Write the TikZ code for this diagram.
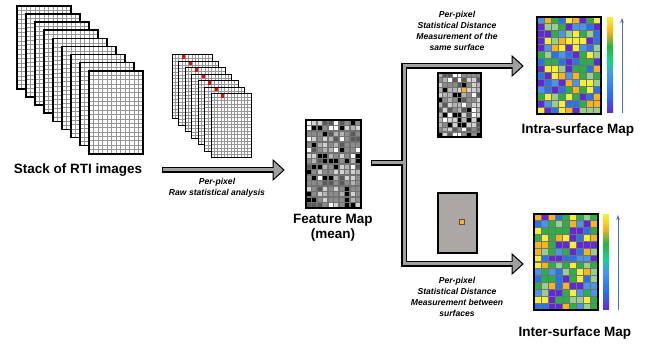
\documentclass[tikz,border=0pt]{standalone}
\usepackage{fontspec}
\setmainfont{Liberation Sans}
\usetikzlibrary{arrows.meta}

% colours of the maps
\definecolor{pc1}{RGB}{248,238,52}
\definecolor{pc2}{RGB}{250,180,25}
\definecolor{pc3}{RGB}{40,178,70}
\definecolor{pc4}{RGB}{150,208,140}
\definecolor{pc5}{RGB}{40,115,235}
\definecolor{pc6}{RGB}{98,40,215}
\definecolor{pc7}{RGB}{70,150,240}
\definecolor{fm1}{RGB}{255,255,255}
\definecolor{fm2}{RGB}{210,210,210}
\definecolor{fm3}{RGB}{180,180,180}
\definecolor{fm4}{RGB}{90,90,90}
\definecolor{fm5}{RGB}{0,0,0}
\definecolor{fm6}{RGB}{140,140,140}
\definecolor{fm7}{RGB}{140,140,140}
\definecolor{bargrey}{RGB}{160,160,160}
\definecolor{sheetgrey}{RGB}{150,150,150}
\definecolor{cellgrey}{RGB}{115,115,115}
\definecolor{plate}{RGB}{172,167,165}
\definecolor{scalearrow}{RGB}{70,110,205}

\pgfdeclareverticalshading{parula}{100bp}{color(0bp)=(pc6); color(25bp)=(pc6);
  color(35bp)=(pc5); color(45bp)=(pc7); color(52bp)=(pc3!60!cyan);
  color(60bp)=(pc3); color(68bp)=(pc2); color(75bp)=(pc1); color(100bp)=(pc1)}

% left top width height innercols innerrows
\newcommand{\rtisheet}[6]{%
  \fill[white] (#1,#2) rectangle ++(#3,#4);
  \foreach \k in {1,...,#5}
    \draw[sheetgrid] ({#1+\k*#3/(#5+1)},#2) -- ++(0,#4);
  \foreach \k in {1,...,#6}
    \draw[sheetgrid] (#1,{#2+\k*#4/(#6+1)}) -- ++(#3,0);
}

% left top cellw cellh cols rows palette count
\newcommand{\cellmap}[8]{%
  \foreach \i in {1,...,#5}
    \foreach \j in {1,...,#6}{
      \pgfmathrandominteger{\c}{1}{#8}
      \filldraw[fill=#7\c, draw=cellgrey, line width=1.1pt]
        ({#1+(\i-1)*#3},{#2+(\j-1)*#4}) rectangle ++(#3,#4);
    }
  \draw[mapborder] (#1,#2) rectangle ++({#5*#3},{#6*#4});
}

\tikzset{
  sheetgrid/.style={draw=sheetgrey, line width=.5pt},
  mapborder/.style={draw=black, line width=1.8pt},
  barout/.style={draw=black, line width=5.6pt},
  barin/.style={draw=bargrey, line width=3pt},
  barhead/.style={fill=bargrey, draw=black, line width=1pt, line join=miter},
  maplabel/.style={font=\bfseries\fontsize{13.5}{15}\selectfont, align=center},
  steplabel/.style={font=\bfseries\itshape\fontsize{8.6}{11}\selectfont, align=center},
}

\begin{document}
\begin{tikzpicture}[x=1pt,y=-1pt]
    \useasboundingbox (0,0) rectangle (654,344);
    \pgfmathsetseed{4711}

    % stack of RTI images
    \foreach \s in {0,...,8}{
      \rtisheet{17+9*\s}{6+8.1*\s}{54}{83}{11}{18}
      \draw[black, line width=1.6pt] (17+9*\s,6+8.1*\s) rectangle ++(54,83);
    }
    \node[maplabel] (stacklbl) at (78,170) {Stack of RTI images};

    % per-pixel stack
    \foreach \s in {0,...,6}{
      \rtisheet{172+6.5*\s}{55+6.5*\s}{40}{64}{11}{18}
      \draw[black, line width=1pt] (172+6.5*\s,55+6.5*\s) rectangle ++(40,64);
      \fill[red] ({172+6.5*\s+10},{55+6.5*\s+.4}) rectangle ++(3.3,3.3);
    }

    % block arrows
    \coordinate (rawstart) at (162,170);
    \coordinate (rawend) at (275,170);
    \coordinate (stubstart) at (371,163);
    \coordinate (stubend) at (404,163);
    \coordinate (hubtop) at (404,66);
    \coordinate (hubbot) at (404,264);
    \coordinate (sameend) at (514,66);
    \coordinate (betwend) at (514,264);
    \draw[barout] (rawstart) -- (rawend);
    \draw[barout] (stubstart) -- (stubend);
    \draw[barout, line join=miter] (sameend) -- (hubtop) -- (hubbot) -- (betwend);
    \draw[barhead] (273,160) -- (284,170) -- (273,180) -- cycle;
    \draw[barhead] (512,56) -- (523,66) -- (512,76) -- cycle;
    \draw[barhead] (512,254) -- (523,264) -- (512,274) -- cycle;
    \draw[barin] ([xshift=1.3pt]rawstart) -- ([xshift=1.5pt]rawend);
    \draw[barin] ([xshift=1.3pt]stubstart) -- (stubend);
    \draw[barin, line join=miter] ([xshift=1.5pt]sameend) -- (hubtop) -- (hubbot) -- ([xshift=1.5pt]betwend);

    \node[steplabel] (rawlbl) at (217,188) {Per-pixel\\Raw statistical analysis};

    % feature map
    \cellmap{306}{120}{5.5}{5.5}{10}{16}{fm}{7}
    \node[maplabel] (featlbl) at (333,227.5) {Feature Map\\(mean)};

    % same surface branch
    \cellmap{438}{73}{4.78}{4.92}{9}{13}{fm}{7}
    \filldraw[fill=pc2, draw=cellgrey, line width=1.1pt] (438+5*4.78,73+3*4.92) rectangle ++(4.78,4.92);
    \node[steplabel] (samelbl) at (457,30.5)
      {Per-pixel\\Statistical Distance\\Measurement of the\\same surface};
    \cellmap{537}{17}{7.11}{6.93}{9}{14}{pc}{7}
    \shade[shading=parula] (607,18) rectangle (613,113);
    \draw[scalearrow, line width=.8pt, -{Stealth[length=5pt,width=3.5pt]}] (622,113) -- (622,18);
    \node[maplabel] (intralbl) at (578,130) {Intra-surface Map};

    % between surfaces branch
    \filldraw[fill=plate, draw=black, line width=1.6pt] (438,193) rectangle (477,253);
    \filldraw[fill=pc2, draw=cellgrey!70!black, line width=.8pt] (459.5,219.5) rectangle ++(5,5);
    \node[steplabel] (betwlbl) at (457,297)
      {Per-pixel\\Statistical Distance\\Measurement between\\surfaces};
    \cellmap{534}{214}{7.11}{6.86}{9}{14}{pc}{7}
    \shade[shading=parula] (603,215) rectangle (609,310);
    \draw[scalearrow, line width=.8pt, -{Stealth[length=5pt,width=3.5pt]}] (618,310) -- (618,215);
    \node[maplabel] (interlbl) at (575,333) {Inter-surface Map};
\end{tikzpicture}
\end{document}
